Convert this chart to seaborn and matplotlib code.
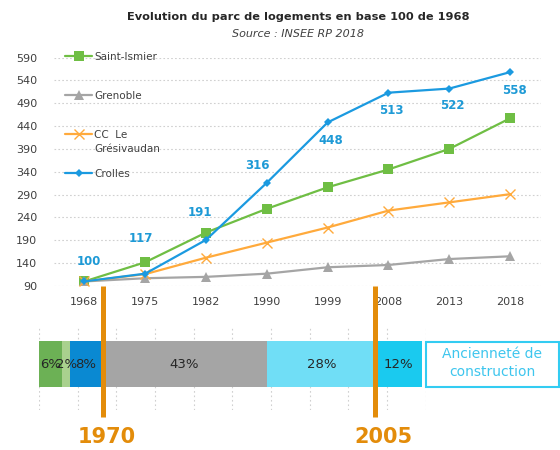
import numpy as np
import pandas as pd
import matplotlib
matplotlib.use("Agg")
import matplotlib.pyplot as plt
from matplotlib.lines import Line2D
from matplotlib.patches import Rectangle
import seaborn as sns

# ---------------- data ----------------
years = ["1968", "1975", "1982", "1990", "1999", "2008", "2013", "2018"]
saint_ismier = [100, 142, 207, 259, 306, 345, 390, 457]
grenoble = [100, 107, 110, 117, 131, 136, 149, 155]
cc_gresivaudan = [100, 116, 152, 185, 218, 255, 273, 291]
crolles = [100, 117, 191, 316, 448, 513, 522, 558]
y_ticks = [90, 140, 190, 240, 290, 340, 390, 440, 490, 540, 590]

age_shares = [6, 2, 8, 43, 28, 12]
age_labels = ["6%", "2%", "8%", "43%", "28%", "12%"]
milestones = ["1970", "2005"]

# ---------------- style ----------------
sns.set_theme(style="white")
plt.rcParams["font.family"] = ["DejaVu Sans"]
txt_col = "#404040"

fig = plt.figure(figsize=(5.6, 4.5), dpi=100)

# ---------------- line chart ----------------
ax = fig.add_axes([54 / 560, 1 - 286 / 450, 486.5 / 560, 228.5 / 450])
pos = np.arange(len(years))
series = [
    ("Saint-Ismier", saint_ismier, "#6FBE44", "s", 6.5, 0),
    ("Grenoble", grenoble, "#A5A5A5", "^", 6.5, 0),
    ("CC  Le", cc_gresivaudan, "#FFAA3C", "x", 7, 1.0),
    ("Crolles", crolles, "#1B9AE0", "D", 4.5, 0),
]
for name, vals, col, mk, ms, mew in series:
    df = pd.DataFrame({"pos": pos, "value": vals})
    kw = dict(marker=mk, markersize=ms, color=col, linewidth=1.6,
              markeredgewidth=mew, markeredgecolor=col)
    sns.lineplot(data=df, x="pos", y="value", ax=ax, label=name, **kw)

ax.set_xlim(-0.5, len(years) - 0.5)
ax.set_ylim(90, 590)
ax.set_yticks(y_ticks)
ax.set_xticks(pos)
ax.set_xticklabels(years)
ax.set_xlabel("")
ax.set_ylabel("")
ax.tick_params(axis="both", length=0, labelsize=8, colors=txt_col)
ax.tick_params(axis="y", pad=12)
ax.tick_params(axis="x", pad=8)
for s in ax.spines.values():
    s.set_visible(False)
ax.yaxis.grid(True, color="#D0D0D0", linestyle=(0, (1.5, 2)), linewidth=0.8)
ax.xaxis.grid(False)

# data labels for Crolles (offsets in pixels -> points)
offsets = [(4, 20), (-4, 35), (-6, 27), (-9, 17), (3, -18), (3, -18), (3, -17), (4, -18)]
for i, v in enumerate(crolles):
    dx, dy = offsets[i]
    ax.annotate(str(v), xy=(pos[i], v), xytext=(dx * 0.72, dy * 0.72),
                textcoords="offset points", ha="center", va="center",
                fontsize=8.5, fontweight="bold", color="#1E9AD6")

handles = ax.get_lines()[:4]
leg = ax.legend(handles=list(handles), labels=[s[0] for s in series],
                loc="upper left", bbox_to_anchor=(11 / 486.5, 1.026),
                frameon=False, fontsize=7.5, labelcolor=txt_col,
                handlelength=2.6, handletextpad=0.2, labelspacing=2.8,
                borderpad=0, borderaxespad=0)

# ---------------- title ----------------
fig.text(298 / 560, 1 - 17 / 450, "Evolution du parc de logements en base 100 de 1968",
         ha="center", va="center", fontsize=8.2, fontweight="bold", color="#262626")
fig.text(298 / 560, 1 - 34 / 450, "Source : INSEE RP 2018",
         ha="center", va="center", fontsize=8, style="italic", color="#404040")

# ---------------- stacked bar ----------------
bx = fig.add_axes([39 / 560, 1 - 410 / 450, 386.7 / 560, 82 / 450])
bar_cols = ["#6CB155", "#A9D18E", "#0A89D2", "#A5A5A5", "#70DEF6", "#1ACAEF"]
left = 0
for share, lab, col in zip(age_shares, age_labels, bar_cols):
    bx.barh(0, share, left=left, height=0.6, color=col, edgecolor="none")
    bx.text(left + share / 2, 0, lab, ha="center", va="center",
            fontsize=9.5, color="#262626")
    left += share
bx.set_xlim(0, 100)
bx.set_ylim(-0.6, 0.47)
bx.set_xticks(np.arange(0, 101, 10))
bx.set_yticks([])
bx.tick_params(axis="x", length=0, labelbottom=False)
bx.xaxis.grid(True, color="#D0D0D0", linestyle=(0, (1.5, 2.5)), linewidth=0.8)
bx.set_axisbelow(True)
for s in bx.spines.values():
    s.set_visible(False)

# box with label
fig.add_artist(Rectangle((426 / 560, 1 - 386.7 / 450), 133 / 560, 45 / 450,
                         transform=fig.transFigure, facecolor="white",
                         edgecolor="#33CCF2", linewidth=1.5))
fig.text(492 / 560, 1 - 363 / 450, "Ancienneté de\nconstruction", ha="center",
         va="center", fontsize=10, color="#3EC6EE", linespacing=1.3)

# ---------------- milestones ----------------
orange = "#E38C0A"
for xpx, lab, lx in [(103, milestones[0], 107), (375, milestones[1], 383)]:
    fig.add_artist(Line2D([xpx / 560, xpx / 560], [1 - 286 / 450, 1 - 417 / 450],
                          transform=fig.transFigure, color=orange, linewidth=3.6,
                          solid_capstyle="butt"))
    fig.text(lx / 560, 1 - 437 / 450, lab, ha="center", va="center",
             fontsize=15, fontweight="bold", color=orange)

# second line of the CC legend label, hung under "CC  Le"
fig.canvas.draw()
bb = leg.get_texts()[2].get_window_extent()
x0, y0 = fig.transFigure.inverted().transform((bb.x0, bb.y0))
fig.text(x0, y0 - 4 / 450, "Grésivaudan", ha="left", va="top",
         fontsize=7.5, color=txt_col)

fig.savefig("out.png", dpi=100)
